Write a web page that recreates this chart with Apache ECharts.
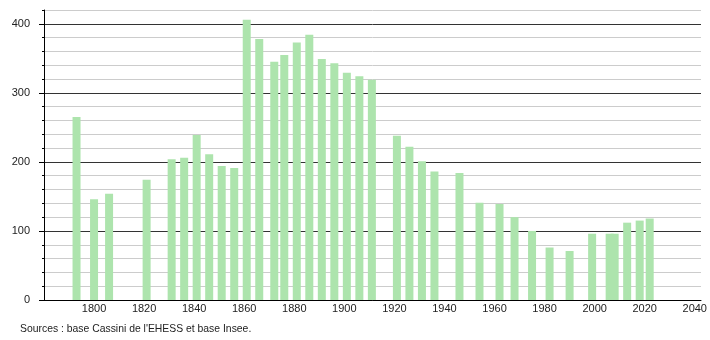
<!DOCTYPE html>
<html>
<head>
<meta charset="utf-8">
<script src="https://cdn.jsdelivr.net/npm/echarts@6/dist/echarts.min.js"></script>
<style>html,body{margin:0;padding:0;background:#fff}#c{width:710px;height:340px}</style>
</head>
<body>
<div id="c"></div>
<script>
const years = [1793,1800,1806,1821,1831,1836,1841,1846,1851,1856,1861,1866,1872,1876,1881,1886,1891,1896,1901,1906,1911,1921,1926,1931,1936,1946,1954,1962,1968,1975,1982,1990,1999,2006,2008,2013,2018,2022];
const population = [265,146,154,174,204,206,239,211,194,191,406,378,345,355,373,384,349,343,329,324,319,238,222,201,186,184,141,139,120,100,76,71,96,96,96,112,115,118];
const xTickLabels = [1800,1820,1840,1860,1880,1900,1920,1940,1960,1980,2000,2020,2040];
const yTickLabels = [0,100,200,300,400];
const sourceText = "Sources : base Cassini de l'EHESS et base Insee.";

const font = 'Liberation Sans, Arial, sans-serif';
const chart = echarts.init(document.getElementById('c'));
chart.setOption({
  animation: false,
  backgroundColor: '#fff',
  grid: {left: 44, right: 9, top: 10, bottom: 40, containLabel: false},
  graphic: [{type: 'text', left: 20, top: 324, style: {text: sourceText, font: '10.4px ' + font, fill: '#222'}}],
  xAxis: {
    type: 'value', min: 1780, max: 2042.5, interval: 20,
    axisLine: {show: true, lineStyle: {color: '#000', width: 1}},
    axisTick: {show: false},
    splitLine: {show: false},
    axisLabel: {
      margin: 3, color: '#222', fontFamily: font, fontSize: 11,
      showMinLabel: false, showMaxLabel: false,
      formatter: v => xTickLabels.indexOf(v) >= 0 ? String(v) : ''
    }
  },
  yAxis: [{
    type: 'value', min: 0, max: 420, interval: 20,
    axisLine: {show: true, onZero: false, lineStyle: {color: '#000', width: 1}},
    axisTick: {show: true, length: 2, lineStyle: {color: '#000'}},
    splitLine: {show: true, lineStyle: {color: ['#333', '#ccc', '#ccc', '#ccc', '#ccc'], width: 1}},
    axisLabel: {
      margin: 14, color: '#222', fontFamily: font, fontSize: 11,
      formatter: v => yTickLabels.indexOf(v) >= 0 ? String(v) : ''
    }
  }, {
    type: 'value', min: 0, max: 420, position: 'left',
    axisLine: {show: false},
    axisTick: {show: true, length: 5, lineStyle: {color: '#000'}, customValues: yTickLabels},
    axisLabel: {show: false},
    splitLine: {show: false}
  }],
  series: [{
    type: 'bar',
    barWidth: 8,
    itemStyle: {color: '#ade4ad'},
    data: years.map((y, i) => [y, population[i]])
  }]
});
</script>
</body>
</html>
